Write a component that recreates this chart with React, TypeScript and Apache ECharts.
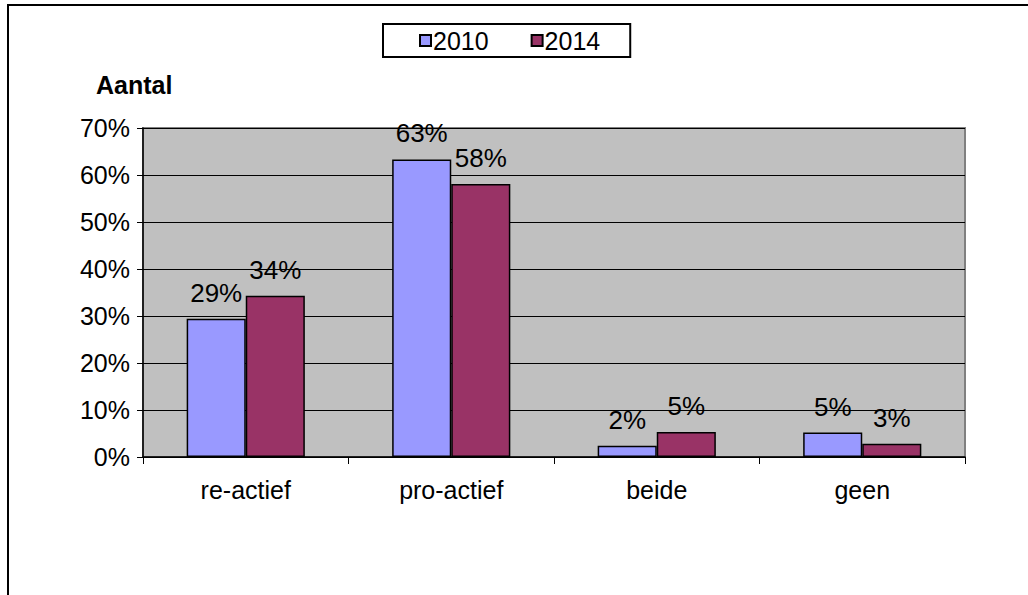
import React, { useEffect, useRef } from "react";
import * as echarts from "echarts";

const categories = ["re-actief", "pro-actief", "beide", "geen"];
const seriesNames = ["2010", "2014"];
const values2010 = [0.294, 0.633, 0.024, 0.052];
const values2014 = [0.343, 0.581, 0.053, 0.028];
const yTicks = [0, 0.1, 0.2, 0.3, 0.4, 0.5, 0.6, 0.7];
const yTitle = "Aantal";

const FONT = "Liberation Sans, Arial, sans-serif";

export default function App() {
  const ref = useRef<HTMLDivElement>(null);
  useEffect(() => {
    if (!ref.current) return;
    const chart = echarts.init(ref.current, undefined, { renderer: "svg" });
    const pct = (v: number) => Math.round(v * 100) + "%";
    chart.setOption({
      animation: false,
      backgroundColor: "#ffffff",
      textStyle: { fontFamily: FONT },
      title: {
        text: yTitle,
        left: 91,
        top: 67,
        textStyle: { fontFamily: FONT, fontWeight: "bold", fontSize: 25, color: "#000" },
      },
      legend: {
        data: seriesNames,
        left: 383,
        top: 24,
        padding: [4, 30, 4, 36],
        itemGap: 42,
        itemWidth: 11,
        itemHeight: 11,
        icon: "rect",
        borderColor: "#000",
        borderWidth: 2,
        backgroundColor: "#fff",
        textStyle: { fontFamily: FONT, fontSize: 25, color: "#000", padding: [0, 0, 0, -3] },
      },
      grid: {
        left: 143,
        top: 128,
        width: 822,
        height: 329,
        show: true,
        backgroundColor: "#C0C0C0",
        borderColor: "#808080",
        borderWidth: 2,
      },
      xAxis: {
        type: "category",
        data: categories,
        axisLine: { lineStyle: { color: "#000", width: 1.5 } },
        axisTick: { show: true, length: 7, lineStyle: { color: "#000", width: 1 } },
        axisLabel: { fontFamily: FONT, fontSize: 25, color: "#000", margin: 20 },
      },
      yAxis: {
        type: "value",
        min: yTicks[0],
        max: yTicks[yTicks.length - 1],
        interval: 0.1,
        axisLine: { show: true, lineStyle: { color: "#000", width: 1.5 } },
        axisTick: { show: true, length: 6, lineStyle: { color: "#000" } },
        axisLabel: { fontFamily: FONT, fontSize: 25, color: "#000", margin: 13, formatter: pct },
        splitLine: { show: true, lineStyle: { color: "#000", width: 1 } },
      },
      series: [
        {
          name: seriesNames[0],
          type: "bar",
          data: values2010,
          barGap: "0%",
          barCategoryGap: "42.5%",
          itemStyle: { color: "#9999FF", borderColor: "#000", borderWidth: 1.5 },
          label: {
            show: true,
            position: "top",
            distance: 13,
            fontFamily: FONT,
            fontSize: 26,
            color: "#000",
            formatter: (p: any) => pct(p.value),
          },
        },
        {
          name: seriesNames[1],
          type: "bar",
          data: values2014,
          itemStyle: { color: "#993366", borderColor: "#000", borderWidth: 1.5 },
          label: {
            show: true,
            position: "top",
            distance: 13,
            fontFamily: FONT,
            fontSize: 26,
            color: "#000",
            formatter: (p: any) => pct(p.value),
          },
        },
      ],
      graphic: [
        {
          type: "rect",
          shape: { x: 8, y: 5, width: 1100, height: 700 },
          style: { fill: "none", stroke: "#000", lineWidth: 2 },
          silent: true,
        },
      ],
    });
    return () => chart.dispose();
  }, []);
  return (
    <div
      ref={ref}
      style={{ position: "absolute", left: 0, top: 0, width: 1028, height: 595 }}
    />
  );
}
